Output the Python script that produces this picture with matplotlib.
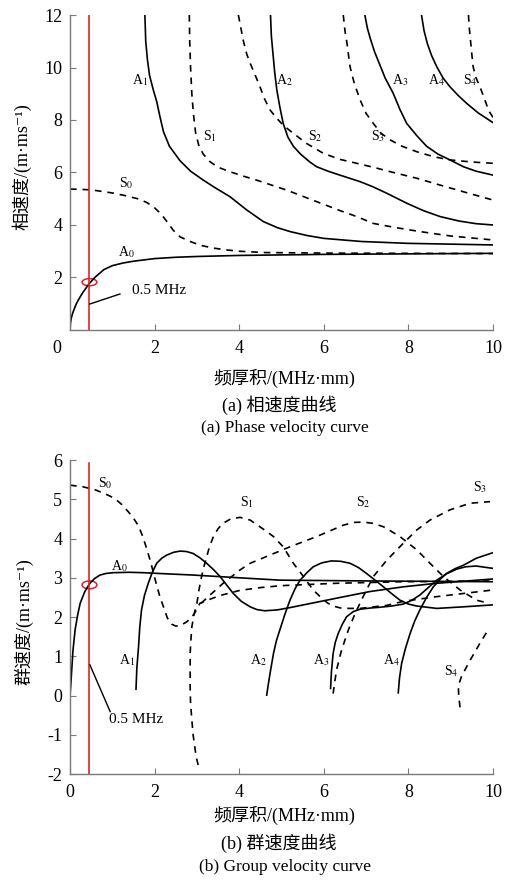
import numpy as np
import matplotlib
matplotlib.use('Agg')
import matplotlib.pyplot as plt
from matplotlib.patches import Ellipse
from matplotlib.transforms import ScaledTranslation

plt.rcParams['font.family'] = ['Liberation Serif', 'Noto Sans CJK SC', 'DejaVu Sans']
plt.rcParams['mathtext.fontset'] = 'stix'
plt.rcParams['axes.unicode_minus'] = False
plt.rcParams['font.size'] = 13

# %% 相速度 (phase velocity), x: 频厚积 MHz*mm, y: m/ms
a0_fd = [0, 0.01, 0.03, 0.06, 0.1, 0.15, 0.2, 0.3, 0.46, 0.6, 0.8, 1.0, 1.25, 1.5, 2, 2.5, 3, 4, 6, 8, 10]
a0_cp = [0, 0.25, 0.45, 0.63, 0.8, 1.0, 1.15, 1.42, 1.78, 2.02, 2.3, 2.45, 2.55, 2.62, 2.72, 2.77, 2.8, 2.84, 2.88, 2.9, 2.92]

s0_fd = [0, 0.5, 1.0, 1.3, 1.6, 1.8, 1.97, 2.1, 2.21, 2.33, 2.44, 2.6, 2.84, 3.1, 3.39, 3.7, 4.0, 4.6, 6, 8, 10]
s0_cp = [5.37, 5.34, 5.22, 5.12, 5.0, 4.87, 4.7, 4.5, 4.3, 4.05, 3.8, 3.55, 3.37, 3.22, 3.12, 3.05, 3.0, 2.95, 2.93, 2.92, 2.91]

a1_fd = [1.77, 1.79, 1.83, 1.88, 1.97, 2.05, 2.13, 2.21, 2.35, 2.6, 2.85, 3.15, 3.45, 3.78, 4.18, 4.57, 4.9, 5.2, 5.6, 6.0, 6.9, 8, 10]
a1_cp = [12, 11, 10.3, 9.7, 9.14, 8.7, 8.1, 7.55, 7.0, 6.45, 6.05, 5.71, 5.4, 5.08, 4.57, 4.13, 3.9, 3.75, 3.6, 3.49, 3.37, 3.3, 3.24]

s1_fd = [2.82, 2.83, 2.85, 2.88, 2.92, 2.97, 3.05, 3.15, 3.31, 3.5, 3.78, 4.1, 4.41, 5.12, 5.83, 6.38, 6.78, 7.17, 7.7, 8.27, 9, 10]
s1_cp = [12, 11, 10, 9, 8.2, 7.5, 7.0, 6.7, 6.41, 6.2, 6.03, 5.86, 5.71, 5.33, 4.89, 4.55, 4.32, 4.06, 3.9, 3.75, 3.58, 3.43]

a2_fd = [4.74, 4.76, 4.8, 4.84, 4.89, 4.96, 5.04, 5.15, 5.28, 5.45, 5.67, 5.83, 6.1, 6.38, 6.86, 7.17, 7.5, 7.96, 8.35, 8.75, 9.2, 9.6, 10]
a2_cp = [12, 11.2, 10.5, 9.8, 9.14, 8.5, 7.87, 7.35, 7.0, 6.7, 6.4, 6.22, 6.05, 5.9, 5.65, 5.45, 5.2, 4.83, 4.55, 4.32, 4.15, 4.05, 4.0]

s2_fd = [3.98, 4.04, 4.1, 4.18, 4.26, 4.38, 4.49, 4.6, 4.73, 4.87, 5.0, 5.14, 5.28, 5.6, 5.99, 6.38, 6.78, 7.17, 7.57, 8.2, 8.75, 9.4, 10]
s2_cp = [12, 11.5, 11, 10.5, 10.16, 9.7, 9.27, 8.8, 8.38, 8.1, 7.87, 7.67, 7.49, 7.1, 6.73, 6.5, 6.35, 6.2, 6.03, 5.78, 5.52, 5.22, 4.95]

a3_fd = [6.97, 7.03, 7.1, 7.2, 7.3, 7.45, 7.64, 7.8, 7.96, 8.2, 8.43, 8.7, 8.98, 9.3, 9.6, 10]
a3_cp = [12, 11.5, 11.1, 10.6, 10.2, 9.6, 9.02, 8.4, 7.87, 7.4, 7.0, 6.7, 6.48, 6.22, 6.05, 5.9]

s3_fd = [6.46, 6.5, 6.55, 6.62, 6.72, 6.86, 7.0, 7.17, 7.35, 7.57, 7.85, 8.2, 8.6, 8.98, 9.5, 10]
s3_cp = [12, 11.4, 10.9, 10.03, 9.4, 8.76, 8.25, 7.87, 7.5, 7.24, 7.0, 6.79, 6.6, 6.48, 6.4, 6.35]

a4_fd = [8.31, 8.37, 8.45, 8.55, 8.67, 8.82, 8.98, 9.18, 9.38, 9.65, 10]
a4_cp = [12, 11.4, 10.9, 10.45, 10.03, 9.6, 9.27, 8.93, 8.63, 8.27, 7.9]

s4_fd = [9.42, 9.44, 9.47, 9.5, 9.53, 9.6, 9.69, 9.8, 9.9, 10]
s4_cp = [12, 11.5, 11, 10.5, 10.03, 9.6, 9.27, 8.8, 8.35, 8.1]

# %% 群速度 (group velocity)
a0g_fd = [0, 0.02, 0.04, 0.07, 0.12, 0.18, 0.24, 0.35, 0.47, 0.58, 0.71, 0.85, 1.02, 1.4, 1.73, 2.3, 2.91, 4, 4.96, 7, 10]
a0g_cg = [0, 0.3, 0.65, 1.15, 1.67, 2.05, 2.35, 2.65, 2.86, 2.98, 3.07, 3.11, 3.13, 3.14, 3.13, 3.1, 3.07, 3.0, 2.94, 2.92, 2.9]

s0g_fd = [0, 0.3, 0.6, 0.85, 1.06, 1.22, 1.38, 1.5, 1.62, 1.72, 1.81, 1.88, 1.95, 2.05, 2.13, 2.21,
          2.3, 2.4, 2.5, 2.6, 2.75, 2.88, 3.0, 3.07, 3.3, 3.55, 4.02, 4.5, 5, 6.3, 7.88, 10]
s0g_cg = [5.36, 5.32, 5.24, 5.13, 5.02, 4.87, 4.68, 4.52, 4.32, 4.05, 3.75, 3.5, 3.22, 2.8, 2.5, 2.26,
          1.98, 1.82, 1.77, 1.78, 1.87, 1.99, 2.2, 2.35, 2.45, 2.55, 2.68, 2.75, 2.8, 2.86, 2.9, 2.92]

a1g_fd = [1.56, 1.58, 1.62, 1.65, 1.69, 1.76, 1.85, 1.95, 2.05, 2.17, 2.29, 2.45, 2.6, 2.75, 2.91, 3.07,
          3.23, 3.4, 3.55, 3.7, 3.86, 4.05, 4.26, 4.42, 4.6, 4.89, 5.2, 5.52, 6.3, 7.09, 7.88, 8.67, 10]
a1g_cg = [0.16, 0.7, 1.24, 1.75, 2.18, 2.55, 2.86, 3.15, 3.37, 3.5, 3.58, 3.65, 3.68, 3.67, 3.62, 3.51,
          3.37, 3.2, 3.03, 2.82, 2.6, 2.4, 2.26, 2.19, 2.16, 2.18, 2.24, 2.31, 2.48, 2.65, 2.77, 2.86, 2.97]

s1g_fd = [3.03, 2.99, 2.96, 2.91, 2.88, 2.85, 2.84, 2.84, 2.84, 2.86, 2.88, 2.93, 3.0, 3.05, 3.11, 3.17,
          3.23, 3.3, 3.39, 3.5, 3.62, 3.8, 4.02, 4.26, 4.49, 4.65, 4.81, 5.04, 5.16, 5.28, 5.4, 5.52,
          5.64, 5.75, 5.95, 6.1, 6.22, 6.4, 6.6, 6.86, 7.5, 7.88, 8.67, 9.3, 10]
s1g_cg = [-1.77, -1.6, -1.39, -1.0, -0.62, -0.2, 0.22, 0.65, 1.07, 1.45, 1.75, 2.05, 2.35, 2.7, 3.03, 3.3,
          3.53, 3.8, 4.05, 4.25, 4.39, 4.5, 4.54, 4.47, 4.3, 4.18, 4.05, 3.79, 3.58, 3.37, 3.2, 3.03,
          2.85, 2.69, 2.48, 2.35, 2.28, 2.23, 2.22, 2.22, 2.3, 2.4, 2.52, 2.6, 2.69]

a2g_fd = [4.65, 4.69, 4.73, 4.81, 4.88, 4.96, 5.08, 5.2, 5.32, 5.44, 5.6, 5.75, 5.95, 6.18, 6.4, 6.62,
          6.82, 7.01, 7.2, 7.41, 7.6, 7.8, 8.0, 8.2, 8.67, 9.3, 10]
a2g_cg = [0.01, 0.3, 0.57, 1.07, 1.4, 1.67, 2.07, 2.43, 2.72, 2.94, 3.13, 3.28, 3.38, 3.43, 3.42, 3.37,
          3.26, 3.11, 2.95, 2.77, 2.6, 2.43, 2.33, 2.28, 2.22, 2.26, 2.31]

s2g_fd = [3.1, 3.3, 3.62, 4.02, 4.26, 4.73, 5.2, 5.83, 6.2, 6.46, 6.7, 6.93, 7.15, 7.41, 7.6, 7.8,
          8.0, 8.2, 8.51, 8.83, 9.22, 9.61, 9.9]
s2g_cg = [2.35, 2.55, 2.86, 3.2, 3.37, 3.58, 3.79, 4.05, 4.22, 4.34, 4.41, 4.42, 4.39, 4.3, 4.18, 4.05,
          3.88, 3.71, 3.37, 3.03, 2.69, 2.43, 2.35]

a3g_fd = [6.16, 6.18, 6.22, 6.27, 6.34, 6.44, 6.54, 6.7, 6.86, 7.1, 7.33, 7.6, 7.88, 8.07, 8.27, 8.47,
          8.67, 8.9, 9.14, 9.35, 9.6, 10]
a3g_cg = [0.18, 0.6, 1.07, 1.35, 1.58, 1.82, 2.01, 2.14, 2.2, 2.23, 2.25, 2.28, 2.33, 2.42, 2.56, 2.75,
          2.94, 3.1, 3.22, 3.28, 3.3, 3.24]

s3g_fd = [6.22, 6.3, 6.42, 6.58, 6.74, 6.93, 7.17, 7.49, 7.88, 8.2, 8.51, 8.98, 9.46, 9.93]
s3g_cg = [0.05, 0.65, 1.16, 1.67, 2.09, 2.52, 3.03, 3.45, 3.88, 4.22, 4.47, 4.73, 4.9, 4.94]

a4g_fd = [7.76, 7.79, 7.84, 7.93, 8.04, 8.15, 8.27, 8.43, 8.59, 8.75, 8.9, 9.1, 9.3, 9.61, 10]
a4g_cg = [0.07, 0.45, 0.82, 1.2, 1.58, 1.9, 2.18, 2.5, 2.77, 2.96, 3.11, 3.23, 3.32, 3.5, 3.64]

s4g_fd = [9.22, 9.19, 9.18, 9.26, 9.46, 9.69, 9.9]
s4g_cg = [-0.3, 0.0, 0.25, 0.5, 0.9, 1.33, 1.7]

fd_cut = 0.46  # 0.5 MHz

# %% plotting
fig = plt.figure(figsize=(5.19, 8.83), dpi=100)
ax1 = fig.add_axes([0.1349, 0.6263, 0.815, 0.3567])
ax2 = fig.add_axes([0.1349, 0.1234, 0.815, 0.3556])

solid = dict(color='black', lw=1.2)
dash = dict(color='black', lw=1.2, dashes=(4, 3.5))
red = '#d9262a'
axc = '#7a7a7a'


def style(ax):
    for s in ('top', 'right'):
        ax.spines[s].set_visible(False)
    for s in ('left', 'bottom'):
        ax.spines[s].set_color(axc)
        ax.spines[s].set_linewidth(1.0)
    ax.tick_params(direction='in', length=4, color=axc, labelsize=13)
    ax.tick_params(axis='x', pad=7)
    ax.tick_params(axis='y', pad=5.5)


def lab(ax, x, y, name, sub, size=10):
    ax.text(x, y, name + r'$_{\mathrm{' + sub + '}}$', fontsize=size,
            ha='center', va='center')


# (a) phase velocity
for fd, cp in [(a0_fd, a0_cp), (a1_fd, a1_cp), (a2_fd, a2_cp), (a3_fd, a3_cp), (a4_fd, a4_cp)]:
    ax1.plot(fd, cp, **solid)
for fd, cp in [(s0_fd, s0_cp), (s1_fd, s1_cp), (s2_fd, s2_cp), (s3_fd, s3_cp), (s4_fd, s4_cp)]:
    ax1.plot(fd, cp, **dash)
ax1.axvline(fd_cut, color=red, lw=1.2)
ax1.add_patch(Ellipse((fd_cut, 1.82), 0.35, 0.27, fill=False, ec=red, lw=1.1))
ax1.plot([0.47, 1.18], [0.99, 1.37], color='black', lw=1)
ax1.text(1.46, 1.5, '0.5 MHz', fontsize=11, va='center')

lab(ax1, 1.65, 9.52, 'A', '1')
lab(ax1, 5.08, 9.52, 'A', '2')
lab(ax1, 7.8, 9.52, 'A', '3')
lab(ax1, 8.67, 9.52, 'A', '4')
lab(ax1, 9.46, 9.52, 'S', '4')
lab(ax1, 3.31, 7.37, 'S', '1')
lab(ax1, 5.79, 7.37, 'S', '2')
lab(ax1, 7.29, 7.37, 'S', '3')
lab(ax1, 1.32, 5.61, 'S', '0')
lab(ax1, 1.34, 2.95, 'A', '0')

ax1.set_xlim(0, 10)
ax1.set_ylim(0, 12)
ax1.set_xticks([0, 2, 4, 6, 8, 10])
ax1.set_yticks([2, 4, 6, 8, 10, 12])
style(ax1)
t0 = ax1.get_xticklabels()[0]
t0.set_transform(t0.get_transform() + ScaledTranslation(-0.13, 0, fig.dpi_scale_trans))

# (b) group velocity
for fd, cg in [(a0g_fd, a0g_cg), (a1g_fd, a1g_cg), (a2g_fd, a2g_cg), (a3g_fd, a3g_cg), (a4g_fd, a4g_cg)]:
    ax2.plot(fd, cg, **solid)
for fd, cg in [(s0g_fd, s0g_cg), (s1g_fd, s1g_cg), (s2g_fd, s2g_cg), (s3g_fd, s3g_cg), (s4g_fd, s4g_cg)]:
    ax2.plot(fd, cg, **dash)
ax2.plot([fd_cut, fd_cut], [-2, 5.93], color=red, lw=1.2)
ax2.add_patch(Ellipse((fd_cut, 2.82), 0.35, 0.2, fill=False, ec=red, lw=1.1))
ax2.plot([0.47, 0.95], [0.78, -0.41], color='black', lw=1)
ax2.text(0.91, -0.6, '0.5 MHz', fontsize=11, va='center')

lab(ax2, 0.83, 5.42, 'S', '0')
lab(ax2, 1.18, 3.3, 'A', '0')
lab(ax2, 4.18, 4.94, 'S', '1')
lab(ax2, 6.93, 4.94, 'S', '2')
lab(ax2, 9.69, 5.32, 'S', '3')
lab(ax2, 1.34, 0.9, 'A', '1')
lab(ax2, 4.45, 0.9, 'A', '2')
lab(ax2, 5.95, 0.9, 'A', '3')
lab(ax2, 7.6, 0.9, 'A', '4')
lab(ax2, 9.02, 0.61, 'S', '4')

ax2.set_xlim(0, 10)
ax2.set_ylim(-2, 6)
ax2.set_xticks([0, 2, 4, 6, 8, 10])
ax2.set_yticks([-2, -1, 0, 1, 2, 3, 4, 5, 6])
style(ax2)

# axis titles and captions
fig.text(0.042, 0.811, '相速度/(m·ms⁻¹)', rotation=90, ha='center', va='center', fontsize=13)
fig.text(0.047, 0.296, '群速度/(m·ms⁻¹)', rotation=90, ha='center', va='center', fontsize=13)
fig.text(0.547, 0.572, '频厚积/(MHz·mm)', ha='center', va='center', fontsize=13)
fig.text(0.538, 0.541, '(a) 相速度曲线', ha='center', va='center', fontsize=13)
fig.text(0.549, 0.515, '(a) Phase velocity curve', ha='center', va='center', fontsize=12.5)
fig.text(0.547, 0.076, '频厚积/(MHz·mm)', ha='center', va='center', fontsize=13)
fig.text(0.538, 0.045, '(b) 群速度曲线', ha='center', va='center', fontsize=13)
fig.text(0.549, 0.018, '(b) Group velocity curve', ha='center', va='center', fontsize=12.5)

fig.savefig('out.png', dpi=100)
